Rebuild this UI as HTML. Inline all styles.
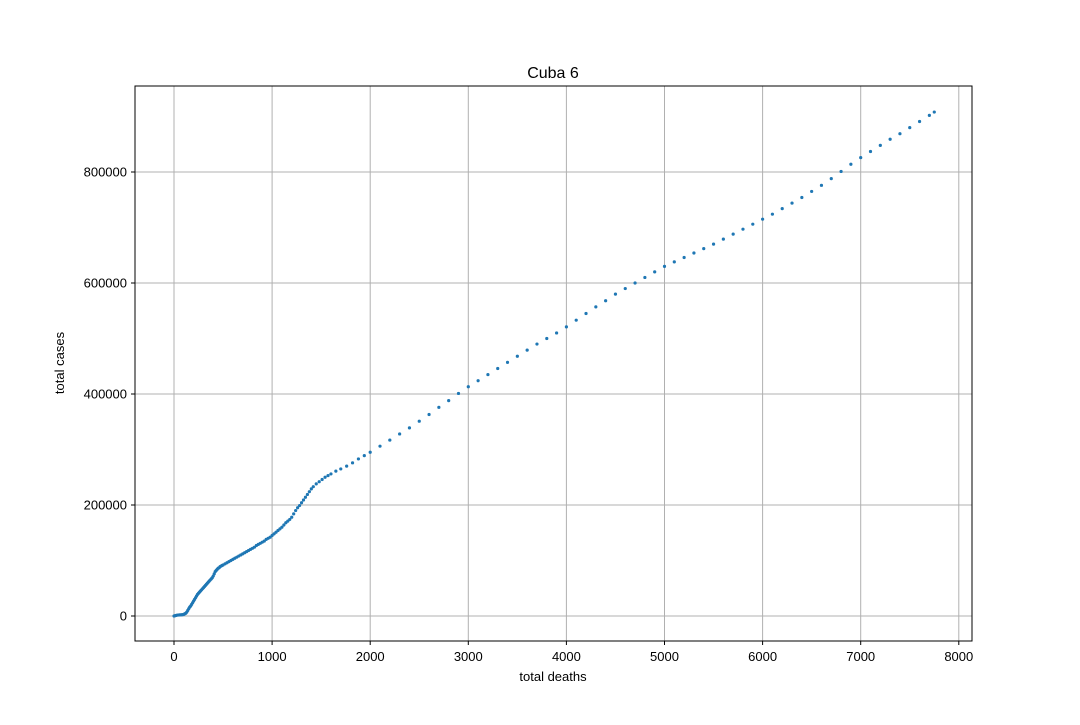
<!DOCTYPE html>
<html><head><meta charset="utf-8"><style>
body{margin:0;background:#fff;}
svg text{font-family:"Liberation Sans","DejaVu Sans",sans-serif;}
</style></head><body>
<svg id="chart" width="1080" height="720" xmlns="http://www.w3.org/2000/svg">
<rect width="1080" height="720" fill="#fff"/>
<g id="grid"></g>
<g id="marks"></g>
<rect x="135" y="86" width="837" height="555" fill="none" stroke="#000" stroke-width="1"/>
<g id="ticks"></g>
<text x="553" y="78" font-size="16" text-anchor="middle">Cuba 6</text>
<text x="553" y="681" font-size="13" text-anchor="middle">total deaths</text>
<text x="64" y="363" font-size="13" text-anchor="middle" transform="rotate(-90 64 363)">total cases</text>
</svg>
<script>
const xTicks=[0,1000,2000,3000,4000,5000,6000,7000,8000];
const yTicks=[0,200000,400000,600000,800000];
const deaths=[0,10,20,30,40,50,60,70,80,90,100,110,120,130,140,150,160,170,180,190,200,210,220,230,240,250,260,270,280,290,300,310,320,330,340,350,360,370,380,390,400,410,420,430,440,450,460,470,480,490,500,520,540,560,580,600,620,640,660,680,700,720,740,760,780,800,820,840,860,880,900,920,940,960,980,1000,1020,1040,1060,1080,1100,1120,1140,1160,1180,1200,1220,1240,1260,1280,1300,1320,1340,1360,1380,1400,1420,1450,1480,1510,1540,1570,1600,1650,1700,1760,1820,1880,1940,2000,2100,2200,2300,2400,2500,2600,2700,2800,2900,3000,3100,3200,3300,3400,3500,3600,3700,3800,3900,4000,4100,4200,4300,4400,4500,4600,4700,4800,4900,5000,5100,5200,5300,5400,5500,5600,5700,5800,5900,6000,6100,6200,6300,6400,6500,6600,6700,6800,6900,7000,7100,7200,7300,7400,7500,7600,7700,7750];
const cases=[0,500,1000,1500,1700,1800,2000,2000,2200,2500,3000,4000,5000,7000,10000,13000,16000,18000,21000,24000,27000,30000,33000,36000,39000,41000,43000,45000,47000,49000,51000,53000,55000,57000,59000,61000,63000,65000,67000,69000,72000,76000,80000,82000,84000,86000,87000,89000,90000,91000,92000,94000,96000,98000,100000,102000,104000,106000,108000,110000,112000,114000,116000,118000,120000,122000,124000,127000,129000,131000,133000,135000,138000,140000,142000,145000,148000,151000,154000,157000,160000,164000,168000,171000,174000,178000,184000,190000,195000,199000,204000,209000,214000,219000,224000,229000,233000,238000,242000,246000,250000,253000,256000,261000,265000,270000,276000,283000,289000,295000,306000,317000,328000,339000,351000,363000,376000,388000,401000,413000,424000,435000,446000,457000,468000,479000,490000,500000,510000,521000,533000,545000,557000,568000,580000,590000,600000,610000,620000,630000,638000,646000,654000,662000,670000,679000,688000,697000,706000,715000,724000,734000,744000,754000,765000,776000,788000,801000,814000,826000,837000,848000,859000,869000,880000,891000,902000,908000];
const X0=174,XS=0.0981,Y0=616,YS=111/200000;
const xs=v=>X0+v*XS, ys=v=>Y0-v*YS;
const NS="http://www.w3.org/2000/svg";
const grid=document.getElementById('grid'),ticks=document.getElementById('ticks'),marks=document.getElementById('marks');
function mk(t,a,p){const e=document.createElementNS(NS,t);for(const k in a)e.setAttribute(k,a[k]);p.appendChild(e);return e;}
xTicks.forEach(v=>{const x=xs(v);
 const g=mk('line',{x1:x,x2:x,y1:86,y2:641,stroke:'#b0b0b0','stroke-width':1},grid);
 
 
 mk('line',{x1:x,x2:x,y1:641,y2:645,stroke:'#000'},ticks);
 const t=mk('text',{x:x,y:661,'font-size':13,'text-anchor':'middle'},ticks);t.textContent=v;
 
 
});
yTicks.forEach(v=>{const y=ys(v);
 const g=mk('line',{x1:135,x2:972,y1:y,y2:y,stroke:'#b0b0b0','stroke-width':1},grid);
 
 
 mk('line',{x1:131,x2:135,y1:y,y2:y,stroke:'#000'},ticks);
 const t=mk('text',{x:127,y:y+4.5,'font-size':13,'text-anchor':'end'},ticks);t.textContent=v;
 
 
});
deaths.forEach((d,i)=>{
 const c=mk('circle',{cx:xs(d),cy:ys(cases[i]),r:1.6,fill:'#1f77b4'},marks);
 
 
});
</script>
</body></html>
